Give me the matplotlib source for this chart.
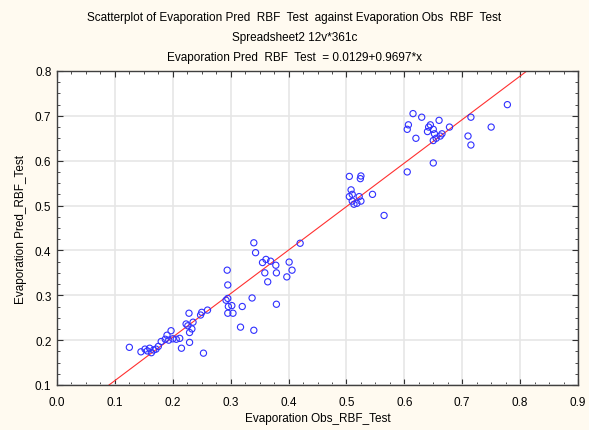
import numpy as np
import matplotlib
matplotlib.use("Agg")
import matplotlib.pyplot as plt
from matplotlib.ticker import MultipleLocator

plt.rcParams['font.family'] = ['Liberation Sans', 'DejaVu Sans']

obs = [0.125, 0.145, 0.152, 0.156, 0.160, 0.163, 0.167, 0.171, 0.175, 0.180,
       0.187, 0.190, 0.197, 0.193, 0.200, 0.206, 0.212, 0.215, 0.223, 0.226,
       0.228, 0.229, 0.229, 0.233, 0.235, 0.248, 0.253, 0.260, 0.250,
       0.294, 0.295, 0.292, 0.295, 0.296, 0.302, 0.295, 0.304, 0.320, 0.337,
       0.317, 0.340, 0.340, 0.343, 0.379, 0.355, 0.361, 0.369, 0.378, 0.359,
       0.379, 0.364, 0.401, 0.406, 0.397, 0.420,
       0.505, 0.508, 0.510, 0.510, 0.513, 0.518, 0.522, 0.524, 0.525, 0.525,
       0.545, 0.565, 0.505,
       0.605, 0.605, 0.607, 0.615, 0.620, 0.630, 0.640, 0.642, 0.645, 0.650,
       0.650, 0.652, 0.655, 0.660, 0.662, 0.665, 0.678, 0.710, 0.715, 0.715,
       0.750, 0.778, 0.650]
pred = [0.184, 0.174, 0.180, 0.176, 0.182, 0.172, 0.178, 0.180, 0.186, 0.197,
        0.202, 0.211, 0.221, 0.200, 0.203, 0.202, 0.204, 0.182, 0.236, 0.232,
        0.260, 0.217, 0.195, 0.225, 0.240, 0.256, 0.171, 0.267, 0.262,
        0.356, 0.323, 0.289, 0.293, 0.275, 0.277, 0.260, 0.260, 0.275, 0.294,
        0.229, 0.222, 0.417, 0.395, 0.280, 0.373, 0.380, 0.376, 0.367, 0.350,
        0.350, 0.330, 0.374, 0.356, 0.341, 0.416,
        0.565, 0.535, 0.525, 0.510, 0.503, 0.505, 0.520, 0.560, 0.566, 0.510,
        0.525, 0.478, 0.520,
        0.575, 0.670, 0.680, 0.705, 0.650, 0.697, 0.665, 0.675, 0.680, 0.670,
        0.595, 0.660, 0.650, 0.690, 0.655, 0.660, 0.675, 0.655, 0.697, 0.635,
        0.675, 0.725, 0.645]

intercept = 0.0129
slope = 0.9697

title_lines = ["Scatterplot of Evaporation Pred  RBF  Test  against Evaporation Obs  RBF  Test",
               "Spreadsheet2 12v*361c",
               "Evaporation Pred  RBF  Test  = 0.0129+0.9697*x"]

fig = plt.figure(figsize=(5.89, 4.31), dpi=100, facecolor='#fffaf0')
ax = fig.add_axes([57 / 589, 45 / 431, 521 / 589, 314 / 431])
ax.set_facecolor('white')

ax.set_xlim(0.0, 0.9)
ax.set_ylim(0.1, 0.8)

# fitted line clipped to the y range
x0 = (0.1 - intercept) / slope
x1 = (0.8 - intercept) / slope
xl = np.array([x0, x1])
ax.plot(xl, intercept + slope * xl, color='#ff3030', lw=0.8, zorder=2)

ax.scatter(obs, pred, s=20, facecolors='none', edgecolors='#3030ff',
           linewidths=0.8, zorder=3)

ax.xaxis.set_major_locator(MultipleLocator(0.1))
ax.xaxis.set_minor_locator(MultipleLocator(0.025))
ax.yaxis.set_major_locator(MultipleLocator(0.1))
ax.yaxis.set_minor_locator(MultipleLocator(0.025))
ax.grid(True, which='major', color='#e6e6e6', lw=1.2)
ax.set_axisbelow(True)
ax.tick_params(which='both', direction='in', top=True, right=True,
               labelsize=8.5, color='#303030')
ax.tick_params(axis='x', pad=8)
ax.tick_params(axis='y', pad=4)
ax.tick_params(which='major', length=4)
ax.tick_params(which='minor', length=2)
for s in ax.spines.values():
    s.set_color('#404040')
    s.set_linewidth(1.0)

ax.set_xlabel('Evaporation Obs_RBF_Test', fontsize=8.5, labelpad=3)
ax.set_ylabel('Evaporation Pred_RBF_Test', fontsize=8.5, labelpad=6)

for i, t in enumerate(title_lines):
    fig.text(0.5, 1 - (18 + 20 * i) / 431, t, ha='center', va='center', fontsize=8.5)

fig.savefig('out.png', dpi=100, facecolor=fig.get_facecolor())
